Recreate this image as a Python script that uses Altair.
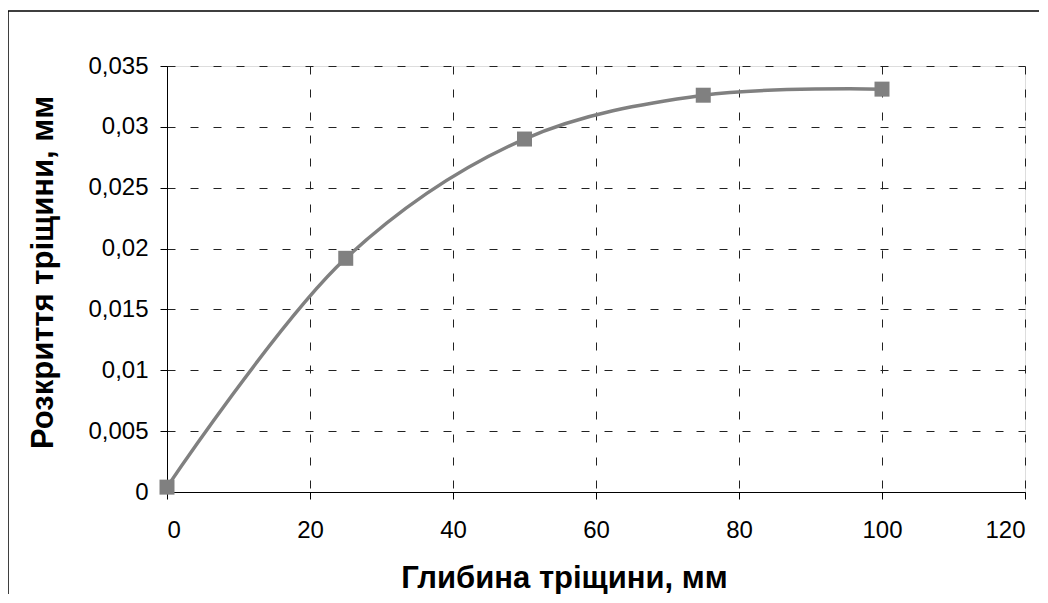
import altair as alt
import pandas as pd

depth = [0, 25, 50, 75, 100]
opening = [0.0004, 0.0192, 0.0290, 0.0326, 0.0331]
x_ticks = [0, 20, 40, 60, 80, 100, 120]
y_ticks = [0, 0.005, 0.01, 0.015, 0.02, 0.025, 0.03, 0.035]

df = pd.DataFrame({"x": depth, "y": opening})

FONT = "Liberation Sans"
W, H = 858, 426

x_enc = alt.X("x:Q", scale=alt.Scale(domain=[0, 120], nice=False, zero=False),
              axis=alt.Axis(values=x_ticks, title="Глибина тріщини, мм",
                            labelExpr="replace(format(datum.value, 'd'), '.', ',')",
                            labelFontSize=24, labelFont=FONT, labelColor="black",
                            labelPadding=19, tickSize=7, tickColor="black",
                            domainColor="black", domainWidth=1,
                            gridDash=[8, 15], gridColor="#222222", gridWidth=1,
                            titleFont=FONT, titleFontSize=31, titleFontWeight="bold",
                            titleColor="black", titleX=397, titleY=95,
                            titleAlign="center", titleBaseline="alphabetic"))
y_enc = alt.Y("y:Q", scale=alt.Scale(domain=[0, 0.035], nice=False, zero=False),
              axis=alt.Axis(values=y_ticks, title="Розкриття тріщини, мм",
                            labelExpr="replace(format(datum.value, ''), '.', ',')",
                            labelFontSize=24, labelFont=FONT, labelColor="black",
                            labelPadding=12, tickSize=7, tickColor="black",
                            domainColor="black", domainWidth=1,
                            gridDash=[8, 15], gridColor="#222222", gridWidth=1,
                            titleFont=FONT, titleFontSize=31, titleFontWeight="bold",
                            titleColor="black", titleX=-115, titleY=206,
                            titleAngle=270, titleAlign="center",
                            titleBaseline="alphabetic"))

line = alt.Chart(df).mark_line(color="#808080", strokeWidth=3.5,
                               interpolate="catmull-rom").encode(x=x_enc, y=y_enc)
pts = alt.Chart(df).mark_square(color="#808080", size=225, opacity=1).encode(x="x:Q", y="y:Q")

frame = alt.Chart(alt.Data(values=[{"a": 1}])).mark_rect(
    fill="transparent", stroke="black", strokeWidth=1.5
).encode(x=alt.value(-159), x2=alt.value(950), y=alt.value(-55), y2=alt.value(650))

chart = alt.layer(frame, line, pts).properties(
    width=W, height=H,
    autosize=alt.AutoSizeParams(type="none"),
    padding={"left": 159, "top": 58, "right": 14, "bottom": 102},
).configure_view(stroke=None).configure(background="white")

chart.save("out.html", embed_options={"renderer": "svg", "actions": False})
